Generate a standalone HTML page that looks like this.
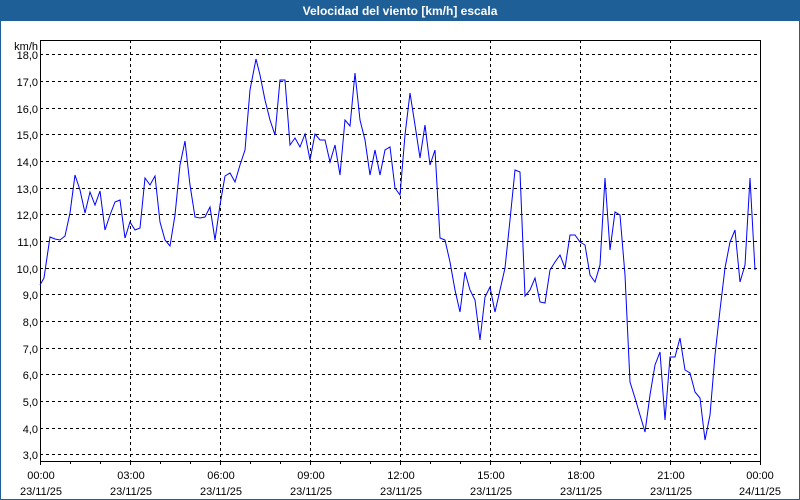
<!DOCTYPE html>
<html><head><meta charset="utf-8"><style>
body{margin:0;background:#fff;}
svg{display:block;font-family:"Liberation Sans",sans-serif;}
</style></head><body>
<svg width="800" height="500" viewBox="0 0 800 500" xmlns="http://www.w3.org/2000/svg">
<rect x="0" y="0" width="800" height="500" fill="#fff"/>
<rect x="0.5" y="0.5" width="799" height="499" fill="none" stroke="#1f5f97"/>
<rect x="0" y="0" width="800" height="21" fill="#1f5f97"/>
<text x="400" y="15" fill="#fff" font-size="12" font-weight="bold" text-anchor="middle">Velocidad del viento [km/h] escala</text>
<g stroke="#000" stroke-dasharray="3,3" stroke-width="1">
<line x1="40" x2="760" y1="54.5" y2="54.5"/><line x1="40" x2="760" y1="81.5" y2="81.5"/>
<line x1="40" x2="760" y1="108.5" y2="108.5"/><line x1="40" x2="760" y1="134.5" y2="134.5"/>
<line x1="40" x2="760" y1="161.5" y2="161.5"/><line x1="40" x2="760" y1="188.5" y2="188.5"/>
<line x1="40" x2="760" y1="214.5" y2="214.5"/><line x1="40" x2="760" y1="241.5" y2="241.5"/>
<line x1="40" x2="760" y1="268.5" y2="268.5"/><line x1="40" x2="760" y1="294.5" y2="294.5"/>
<line x1="40" x2="760" y1="321.5" y2="321.5"/><line x1="40" x2="760" y1="348.5" y2="348.5"/>
<line x1="40" x2="760" y1="374.5" y2="374.5"/><line x1="40" x2="760" y1="401.5" y2="401.5"/>
<line x1="40" x2="760" y1="428.5" y2="428.5"/><line x1="40" x2="760" y1="454.5" y2="454.5"/>
<line y1="40" y2="461" x1="130.5" x2="130.5"/><line y1="40" y2="461" x1="220.5" x2="220.5"/>
<line y1="40" y2="461" x1="310.5" x2="310.5"/><line y1="40" y2="461" x1="400.5" x2="400.5"/>
<line y1="40" y2="461" x1="490.5" x2="490.5"/><line y1="40" y2="461" x1="580.5" x2="580.5"/>
<line y1="40" y2="461" x1="670.5" x2="670.5"/>
</g>
<rect x="40.5" y="40.5" width="720" height="421" fill="none" stroke="#000"/>
<g stroke="#000">
<path d="M70.5 461v3M100.5 461v3M160.5 461v3M190.5 461v3M250.5 461v3M280.5 461v3M340.5 461v3M370.5 461v3M430.5 461v3M460.5 461v3M520.5 461v3M550.5 461v3M610.5 461v3M640.5 461v3M700.5 461v3M730.5 461v3M40.5 461v4M130.5 461v4M220.5 461v4M310.5 461v4M400.5 461v4M490.5 461v4M580.5 461v4M670.5 461v4M760.5 461v4"/>
</g>
<polyline fill="none" stroke="#0000ff" stroke-width="1" points="40,285 44,278 50,237 55,239 60,240 65,236 70,213 75,175 80,190 85,213 90,192 95,205 100,191 105,230 110,215 115,202 120,200 125,238 130,222 135,230 140,228 145,178 150,185 155,176 160,222 165,240 170,246 175,215 180,165 185,141 190,185 195,217 200,218 205,217 210,207 215,240 220,205 225,176 230,173 235,182 240,165 245,150 250,90 256,59 260,75 265,100 270,120 275,135 280,80 285,80 290,145 295,138 300,147 305,134 310,160 315,134 320,140 325,140 330,162 335,145 340,175 345,120 350,126 355,73 360,120 365,140 370,175 375,150 380,175 385,150 390,147 395,188 400,195 405,135 410,93 415,125 420,158 425,125 430,165 435,150 440,238 445,240 450,262 455,290 460,312 465,272 470,290 475,300 480,340 485,297 490,287 495,312 500,290 505,268 510,220 515,170 520,172 525,296 530,290 535,278 540,302 545,303 550,270 555,262 560,255 565,268 570,235 575,235 580,242 585,245 590,275 595,282 600,265 605,178 610,250 615,212 620,215 625,275 630,382 635,398 640,415 645,432 650,395 655,365 660,352 665,420 670,357 675,357 680,338 685,370 690,373 695,392 700,398 705,440 710,415 715,355 720,310 725,268 730,242 735,230 740,282 745,265 750,178 755,270"/>
<g font-size="11" fill="#000" text-anchor="end">
<text x="38" y="50">km/h</text>
<text x="38" y="59">18,0</text><text x="38" y="86">17,0</text><text x="38" y="113">16,0</text>
<text x="38" y="139">15,0</text><text x="38" y="166">14,0</text><text x="38" y="193">13,0</text>
<text x="38" y="219">12,0</text><text x="38" y="246">11,0</text><text x="38" y="273">10,0</text>
<text x="38" y="299">9,0</text><text x="38" y="326">8,0</text><text x="38" y="353">7,0</text>
<text x="38" y="379">6,0</text><text x="38" y="406">5,0</text><text x="38" y="433">4,0</text>
<text x="38" y="459">3,0</text>
</g>
<g font-size="11" fill="#000" text-anchor="middle">
<text x="41" y="479">00:00</text><text x="41" y="495">23/11/25</text>
<text x="131" y="479">03:00</text><text x="131" y="495">23/11/25</text>
<text x="221" y="479">06:00</text><text x="221" y="495">23/11/25</text>
<text x="311" y="479">09:00</text><text x="311" y="495">23/11/25</text>
<text x="401" y="479">12:00</text><text x="401" y="495">23/11/25</text>
<text x="491" y="479">15:00</text><text x="491" y="495">23/11/25</text>
<text x="581" y="479">18:00</text><text x="581" y="495">23/11/25</text>
<text x="671" y="479">21:00</text><text x="671" y="495">23/11/25</text>
<text x="760" y="479">00:00</text><text x="760" y="495">24/11/25</text>
</g>
</svg>
</body></html>
